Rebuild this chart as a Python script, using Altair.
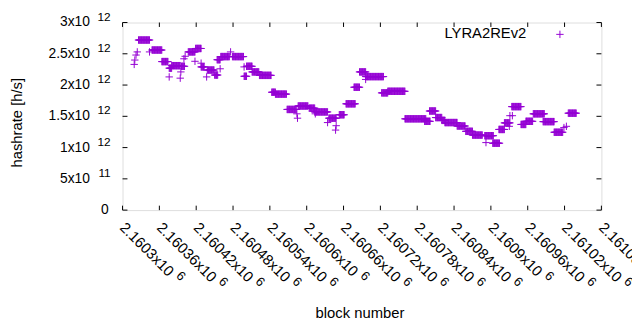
import altair as alt
import pandas as pd

series_name = "LYRA2REv2"

# runs of equal hashrate estimate: first block, last block, value in 10^12 h/s
run_first = [2160326, 2160348, 2160364, 2160376, 2160380, 2160396, 2160407, 2160419, 2160428, 2160438,
             2160450, 2160454, 2160460, 2160479, 2160498, 2160502, 2160511, 2160523, 2160543, 2160549,
             2160568, 2160586, 2160604, 2160613, 2160636, 2160653, 2160664, 2160677, 2160686, 2160696,
             2160722, 2160732, 2160760, 2160792, 2160800, 2160810, 2160820, 2160825, 2160845, 2160859,
             2160870, 2160890, 2160903, 2160913, 2160922, 2160934, 2160949, 2160957, 2160969, 2160985,
             2161003, 2161026]
run_last = [2160344, 2160364, 2160374, 2160380, 2160394, 2160401, 2160418, 2160428, 2160433, 2160449,
            2160455, 2160459, 2160474, 2160497, 2160502, 2160511, 2160522, 2160542, 2160549, 2160567,
            2160583, 2160602, 2160613, 2160634, 2160648, 2160661, 2160679, 2160686, 2160696, 2160725,
            2160732, 2160760, 2160794, 2160801, 2160810, 2160820, 2160825, 2160845, 2160858, 2160870,
            2160886, 2160904, 2160914, 2160922, 2160931, 2160949, 2160957, 2160968, 2160987, 2161003,
            2161017, 2161039]
run_rate = [2.72, 2.56, 2.375, 2.27, 2.31, 2.30, 2.53, 2.585, 2.29, 2.24,
            2.16, 2.405, 2.455, 2.455, 2.14, 2.30, 2.21, 2.155, 1.885, 1.855,
            1.61, 1.665, 1.63, 1.57, 1.47, 1.525, 1.70, 1.965, 2.21, 2.135,
            1.875, 1.90, 1.46, 1.42, 1.585, 1.48, 1.435, 1.40, 1.345, 1.26,
            1.20, 1.19, 1.07, 1.29, 1.395, 1.655, 1.37, 1.42, 1.54, 1.415,
            1.245, 1.55]

# isolated points
single_block = [2160319, 2160320, 2160322, 2160324, 2160344, 2160376, 2160394, 2160395, 2160400, 2160402,
                2160418, 2160428, 2160437, 2160459, 2160476, 2160498, 2160584, 2160585, 2160614, 2160634,
                2160648, 2160647, 2160696, 2160892, 2160930, 2160931, 2160935, 2161019, 2161023]
single_rate = [2.33, 2.40, 2.48, 2.53, 2.53, 2.13, 2.11, 2.21, 2.42, 2.46,
               2.38, 2.35, 2.13, 2.26, 2.53, 2.29, 1.54, 1.47, 1.54, 1.40,
               1.35, 1.28, 2.09, 1.08, 1.34, 1.51, 1.51, 1.32, 1.34]

x_tick_values = [2160300, 2160360, 2160420, 2160480, 2160540, 2160600, 2160660,
                 2160720, 2160780, 2160840, 2160900, 2160960, 2161020, 2161080]
x_tick_mantissa = ["2.1603x10", "2.16036x10", "2.16042x10", "2.16048x10", "2.16054x10", "2.1606x10",
                   "2.16066x10", "2.16072x10", "2.16078x10", "2.16084x10", "2.1609x10", "2.16096x10",
                   "2.16102x10", "2.16108x10"]
x_tick_exponent = ["6"] * len(x_tick_values)

y_tick_values = [0, 5e11, 1e12, 1.5e12, 2e12, 2.5e12, 3e12]
y_tick_mantissa = ["0", "5x10", "1x10", "1.5x10", "2x10", "2.5x10", "3x10"]
y_tick_exponent = ["", "11", "12", "12", "12", "12", "12"]

rows = []
for a, b, r in zip(run_first, run_last, run_rate):
    for blk in range(a, b + 1):
        rows.append({"block": blk, "hashrate": r * 1e12})
for blk, r in zip(single_block, single_rate):
    rows.append({"block": blk, "hashrate": r * 1e12})
df = pd.DataFrame(rows)

df_xt = pd.DataFrame({"block": x_tick_values, "mant": x_tick_mantissa, "exp": x_tick_exponent})
df_yt = pd.DataFrame({"hashrate": y_tick_values, "mant": y_tick_mantissa, "exp": y_tick_exponent})
df_leg = pd.DataFrame({"name": [series_name]})

W, H = 485, 190
PURPLE = "#9400d3"
FONT = "Liberation Sans"
PLUS = "M-1,0H1M0,-1V1"

xscale = alt.Scale(domain=[2160300, 2161080], nice=False, zero=False)
yscale = alt.Scale(domain=[0, 3e12], nice=False, zero=False)
xaxis = alt.Axis(title="block number", labels=False, ticks=False, domain=False, grid=False,
                 titleFont=FONT, titleFontSize=15, titleFontWeight="normal", titleColor="black",
                 titleX=240, titleY=104, titleBaseline="middle")
yaxis = alt.Axis(title="hashrate [h/s]", labels=False, ticks=False, domain=False, grid=False,
                 titleFont=FONT, titleFontSize=15, titleFontWeight="normal", titleColor="black",
                 titleX=-107, titleY=101, titleBaseline="middle", titleAngle=-90, titleAlign="center")

X = alt.X("block:Q", scale=xscale, axis=xaxis)
Y = alt.Y("hashrate:Q", scale=yscale, axis=yaxis)

points = alt.Chart(df).mark_point(shape=PLUS, filled=False, color=PURPLE, strokeWidth=1,
                                  size=56, opacity=1).encode(x=X, y=Y)

xt = alt.Chart(df_xt)
yt = alt.Chart(df_yt)

tick_b = xt.mark_rule(color="black", strokeWidth=1).encode(x=X, y=alt.value(H), y2=alt.value(H - 4.5))
tick_t = xt.mark_rule(color="black", strokeWidth=1).encode(x=X, y=alt.value(0), y2=alt.value(4.5))
tick_l = yt.mark_rule(color="black", strokeWidth=1).encode(y=Y, x=alt.value(0), x2=alt.value(5))
tick_r = yt.mark_rule(color="black", strokeWidth=1).encode(y=Y, x=alt.value(W - 5), x2=alt.value(W))

ylab_m = yt.transform_filter("datum.exp != ''").mark_text(
    align="right", baseline="middle", font=FONT, fontSize=14, color="black"
).encode(y=Y, x=alt.value(-33), text="mant:N")
ylab_e = yt.transform_filter("datum.exp != ''").mark_text(
    align="right", baseline="middle", font=FONT, fontSize=12, color="black", dy=-6
).encode(y=Y, x=alt.value(-12), text="exp:N")
ylab_0 = yt.transform_filter("datum.exp == ''").mark_text(
    align="right", baseline="middle", font=FONT, fontSize=14, color="black"
).encode(y=Y, x=alt.value(-14), text="mant:N")

xlab_m = xt.mark_text(angle=45, align="left", baseline="middle", font=FONT, fontSize=15,
                      color="black").encode(x=X, y=alt.value(H + 15), text="mant:N")
xlab_e_short = xt.transform_filter("length(datum.mant) == 9").mark_text(
    angle=45, align="left", baseline="middle", font=FONT, fontSize=13, color="black", dx=75, dy=-5
).encode(x=X, y=alt.value(H + 15), text="exp:N")
xlab_e_long = xt.transform_filter("length(datum.mant) == 10").mark_text(
    angle=45, align="left", baseline="middle", font=FONT, fontSize=13, color="black", dx=83, dy=-5
).encode(x=X, y=alt.value(H + 15), text="exp:N")

leg_text = alt.Chart(df_leg).mark_text(align="right", baseline="middle", font=FONT, fontSize=15,
                                       color="black").encode(x=alt.value(409), y=alt.value(11), text="name:N")
leg_pt = alt.Chart(df_leg).mark_point(shape=PLUS, filled=False, color=PURPLE, strokeWidth=1,
                                      size=56, opacity=1).encode(x=alt.value(443), y=alt.value(12))

chart = alt.layer(
    points, tick_b, tick_t, tick_l, tick_r, ylab_m, ylab_e, ylab_0,
    xlab_m, xlab_e_short, xlab_e_long, leg_text, leg_pt
).properties(
    width=W, height=H,
    autosize=alt.AutoSizeParams(type="none"),
    padding={"left": 116, "top": 12.7, "right": 31, "bottom": 111},
).configure_view(stroke="black", strokeWidth=1).configure(font=FONT)

chart.save("out.html", embed_options={"renderer": "svg", "actions": False})
